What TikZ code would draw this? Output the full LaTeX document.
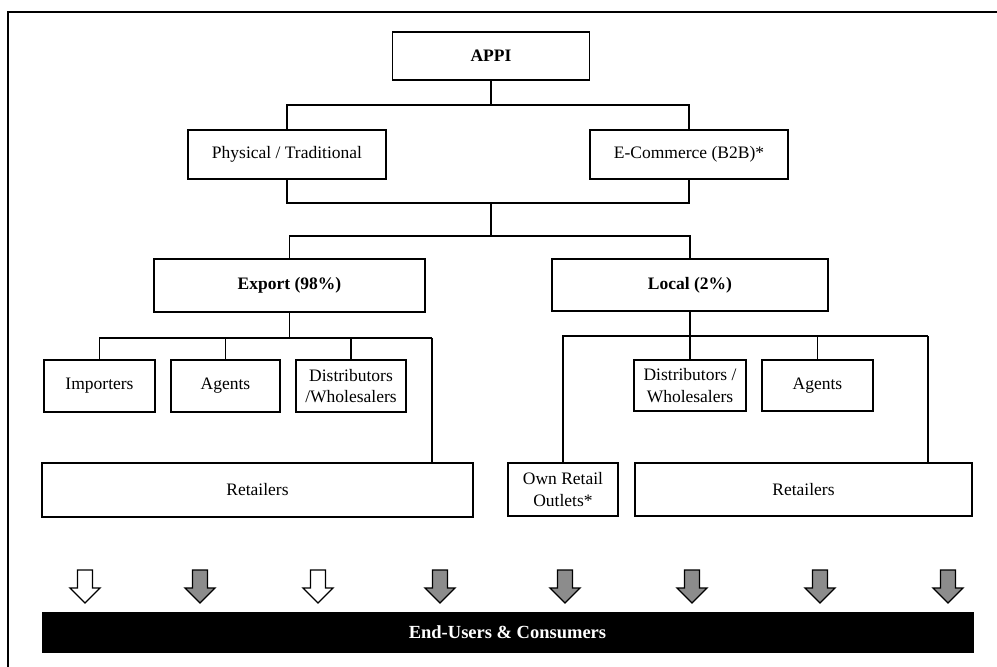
\documentclass[tikz,border=0pt]{standalone}
\usepackage{fontspec}
\setmainfont{Liberation Serif}
\definecolor{arrowgray}{RGB}{140,140,140}
\begin{document}
\begin{tikzpicture}[x=1pt,y=-1pt,
  box/.style={draw, line width=1.7pt, inner sep=0pt, align=center,
    font=\fontsize{17.5}{21.5}\selectfont},
  boldbox/.style={box, font=\fontsize{17.5}{21.5}\selectfont\bfseries},
  link/.style={line width=1.6pt},
  thinlink/.style={line width=1.2pt},
  downarrow/.style={draw, line width=1.3pt, line join=miter},
]
\useasboundingbox (0,0) rectangle (997,667);

% outer frame
\draw[line width=1.9pt] (997,12) -- (8,12) -- (8,667);

% top level
\node[boldbox, minimum width=197, minimum height=48] (appi) at (491,56) {APPI};
\node[box, minimum width=198, minimum height=49] (phys) at (287,154.5) {Physical / Traditional};
\node[box, minimum width=198, minimum height=49] (ecom) at (689,154.5) {E-Commerce (B2B)*};

% markets
\node[boldbox, minimum width=271, minimum height=53] (export) at (289.5,285.5) {Export (98\%)};
\node[boldbox, minimum width=276, minimum height=52] (local) at (690,285) {Local (2\%)};

% export channels
\node[box, minimum width=111, minimum height=52] (imp) at (99.5,386) {Importers};
\node[box, minimum width=109, minimum height=52] (agt) at (225.5,386) {Agents};
\node[box, minimum width=110, minimum height=52] (dist) at (351,386) {Distributors\\/Wholesalers};
\node[box, minimum width=431, minimum height=54] (eret) at (257.5,490) {Retailers};

% local channels
\node[box, minimum width=112, minimum height=51] (ldist) at (690,385.5) {Distributors /\\Wholesalers};
\node[box, minimum width=111, minimum height=51] (lagt) at (817.5,385.5) {Agents};
\node[box, minimum width=110, minimum height=53] (own) at (563,489.5) {Own Retail\\Outlets*};
\node[box, minimum width=337, minimum height=53] (lret) at (803.5,489.5) {Retailers};

% consumers bar
\node[draw, fill=black, text=white, inner sep=0pt, line width=1pt,
  minimum width=931, minimum height=40,
  font=\fontsize{18.5}{22}\selectfont\bfseries] (users) at (507.5,632) {End-Users \& Consumers};

% bus coordinates
\coordinate (b1) at (491,105);
\coordinate (b2) at (491,203);
\coordinate (b3) at (491,236);
\coordinate (eR) at (432,338);
\coordinate (lR) at (928,336);

% connectors
\draw[link] (appi.south) -- (b1);
\draw[link] (phys.north) |- (b1) -| (ecom.north);
\draw[link] (phys.south) |- (b2) -| (ecom.south);
\draw[link] (b2) -- (b3);
\draw[link] (export.north) |- (b3) -| (local.north);

\draw[link] (export.south) -- (export.south |- eR);
\draw[link] (imp.north) |- (eR);
\draw[thinlink] (eR) -- (eR |- eret.north);
\draw[link] (agt.north) -- (agt.north |- eR);
\draw[link] (dist.north) -- (dist.north |- eR);

\draw[link] (local.south) -- (local.south |- lR);
\draw[thinlink] (own.north) |- (lR);
\draw[thinlink] (lR) -- (lR |- lret.north);
\draw[link] (ldist.north) -- (ldist.north |- lR);
\draw[link] (lagt.north) -- (lagt.north |- lR);

% block arrows towards the consumers bar
\foreach \x/\c in {85/white,200/arrowgray,318/white,440/arrowgray,
                   565/arrowgray,692/arrowgray,820/arrowgray,948/arrowgray}
  \draw[downarrow, fill=\c] ({\x-7.5},570) -- ({\x+7.5},570) -- ({\x+7.5},588)
    -- ({\x+15},588) -- (\x,603) -- ({\x-15},588) -- ({\x-7.5},588) -- cycle;
\end{tikzpicture}
\end{document}
